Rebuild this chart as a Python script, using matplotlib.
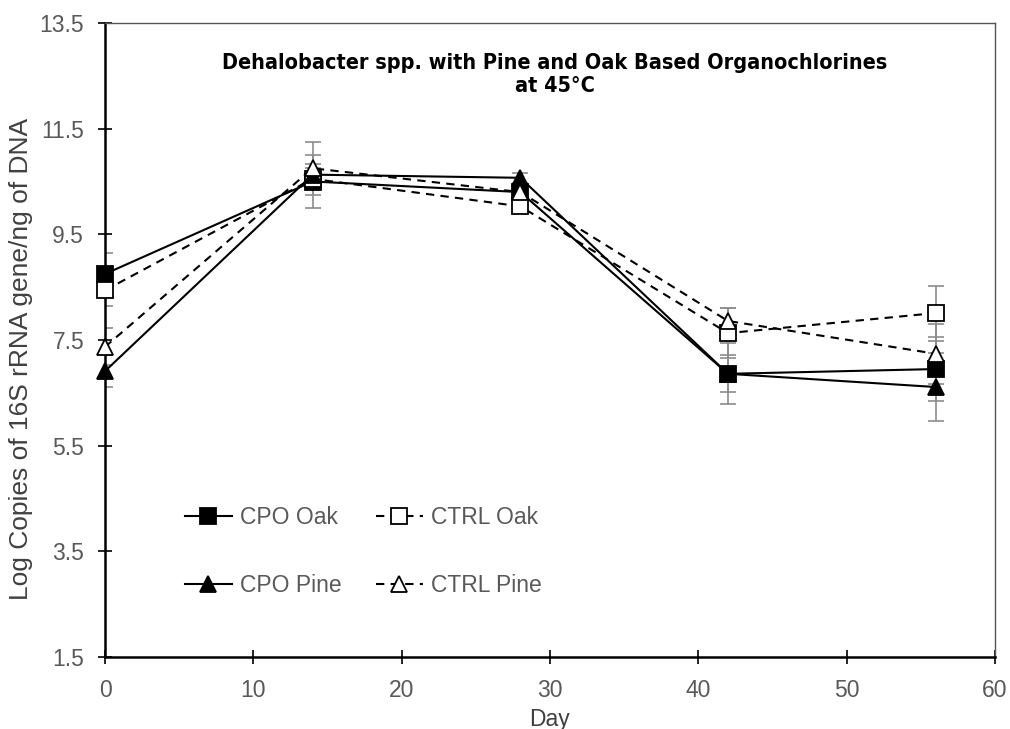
import matplotlib.pyplot as plt

days = [0, 14, 28, 42, 56]

cpo_oak = [8.75, 10.50, 10.30, 6.86, 6.95]
cpo_oak_err = [0.40, 0.50, 0.10, 0.58, 0.60]
ctrl_oak = [8.44, 10.55, 10.03, 7.63, 8.01]
ctrl_oak_err = [0.30, 0.20, 0.08, 0.47, 0.52]
cpo_pine = [6.91, 10.63, 10.57, 6.86, 6.61]
cpo_pine_err = [0.30, 0.20, 0.10, 0.35, 0.65]
ctrl_pine = [7.37, 10.75, 10.30, 7.86, 7.24]
ctrl_pine_err = [0.35, 0.50, 0.10, 0.25, 0.57]

plt.rcParams['font.family'] = ['Liberation Sans', 'DejaVu Sans']

fig = plt.figure(figsize=(10.1, 7.29), dpi=100)
ax = fig.add_axes([105 / 1010, 1 - 657 / 729, 890 / 1010, 634 / 729])

series = [
    (cpo_oak, cpo_oak_err, 'CPO Oak', 's', 'black', '-'),
    (ctrl_oak, ctrl_oak_err, 'CTRL Oak', 's', 'white', (0, (4, 3))),
    (cpo_pine, cpo_pine_err, 'CPO Pine', '^', 'black', '-'),
    (ctrl_pine, ctrl_pine_err, 'CTRL Pine', '^', 'white', (0, (4, 3))),
]

handles = []
for vals, err, name, mk, fc, ls in series:
    ax.errorbar(days, vals, yerr=err, fmt='none', ecolor='#8c8c8c',
                elinewidth=1.2, capsize=6, capthick=1.2, zorder=2)
    h, = ax.plot(days, vals, linestyle=ls, color='black', linewidth=1.5,
                 marker=mk, markersize=11, markerfacecolor=fc,
                 markeredgecolor='black', markeredgewidth=1.3,
                 label=name, zorder=3, clip_on=False)
    handles.append(h)

ax.set_xlim(0, 60)
ax.set_ylim(1.5, 13.5)
ax.set_xticks(range(0, 61, 10))
ax.set_yticks([1.5, 3.5, 5.5, 7.5, 9.5, 11.5, 13.5])
ax.set_yticklabels(['1.5', '3.5', '5.5', '7.5', '9.5', '11.5', '13.5'])
ax.tick_params(direction='inout', length=10, width=1.2, labelsize=16.5,
               labelcolor='#595959')
ax.tick_params(axis='x', pad=11)
ax.tick_params(axis='y', pad=10)

for s in ['left', 'bottom']:
    ax.spines[s].set_linewidth(1.8)
    ax.spines[s].set_color('black')
for s in ['top', 'right']:
    ax.spines[s].set_linewidth(1.0)
    ax.spines[s].set_color('#555555')

ax.set_xlabel('Day', fontsize=16.5, color='#404040')
ax.xaxis.set_label_coords(0.499, -0.080)
ax.set_ylabel('Log Copies of 16S rRNA gene/ng of DNA', fontsize=19,
              color='#404040')
ax.yaxis.set_label_coords(-0.081, 0.47)

ax.text(0.505, 0.919, 'Dehalobacter spp. with Pine and Oak Based Organochlorines\nat 45\u00b0C',
        transform=ax.transAxes, ha='center', va='center', fontsize=15.5,
        fontweight='bold', fontstretch='condensed', family='DejaVu Sans',
        linespacing=1.15)

# legend fills column by column, so order handles to get rows Oak / Pine
leg = ax.legend(handles=[handles[0], handles[2], handles[1], handles[3]],
                ncol=2, frameon=False, fontsize=16.5, loc='center left',
                bbox_to_anchor=(0.0667, 0.166), handlelength=2.05,
                columnspacing=1.5, labelspacing=1.95, handletextpad=0.35)
for t in leg.get_texts():
    t.set_color('#595959')

plt.savefig('out.png', dpi=100)
